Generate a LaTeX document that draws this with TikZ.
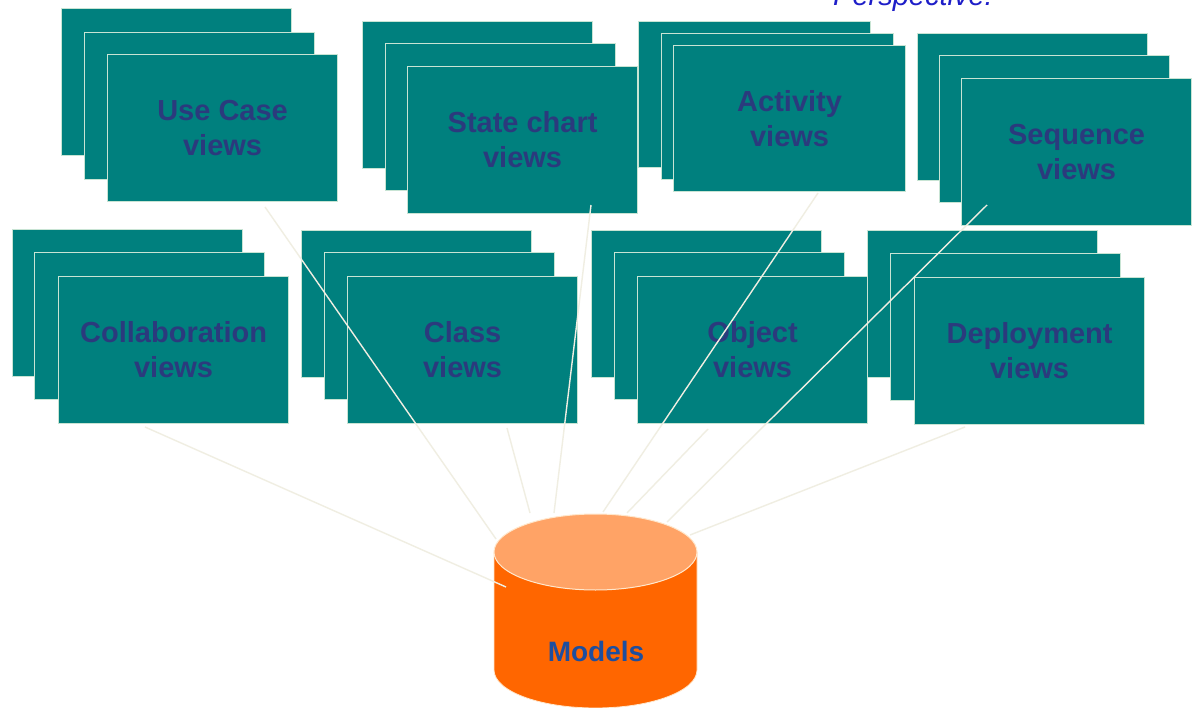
\documentclass[tikz,border=0pt]{standalone}
\usepackage{fontspec}
\setmainfont{Liberation Sans}
\definecolor{teal0}{RGB}{0,128,126}
\definecolor{cardedge}{RGB}{200,228,212}
\definecolor{navy0}{RGB}{43,58,125}
\definecolor{linkcol}{RGB}{240,238,226}
\definecolor{bodyor}{RGB}{255,102,0}
\definecolor{toporange}{RGB}{255,163,102}
\definecolor{rimcol}{RGB}{255,232,205}
\definecolor{modeltext}{RGB}{30,78,158}
\definecolor{perscol}{RGB}{30,30,200}
\begin{document}
\begin{tikzpicture}[x=1pt,y=-1pt,
  card/.style={draw=cardedge, line width=1.2pt, fill=teal0,
    minimum width=230pt, minimum height=147pt, anchor=north west, inner sep=0pt},
  cardtext/.style={card, font=\fontsize{29}{35}\selectfont\bfseries,
    text=navy0, align=center},
  link/.style={draw=linkcol, line width=1.4pt}]
\useasboundingbox (0,0) rectangle (1193,708);
\clip (0,0) rectangle (1193,708);
\fill[white] (0,0) rectangle (1193,708);

% heading, cut at the top edge
\node[anchor=base west, inner sep=0pt, text=perscol,
  font=\fontsize{29}{35}\selectfont\itshape] (persp) at (833,6) {Perspective:};

% top row of view stacks
\node[card] (uc1) at (61,8) {};
\node[card] (uc2) at (84,32) {};
\node[cardtext] (usecase) at (107,54) {Use Case\\views};

\node[card] (sc1) at (362,21) {};
\node[card] (sc2) at (385,43) {};
\node[cardtext] (statechart) at (407,66) {State chart\\views};

\node[card, minimum width=232pt, minimum height=146pt] (ac1) at (638,21) {};
\node[card, minimum width=232pt, minimum height=146pt] (ac2) at (661,33) {};
\node[cardtext, minimum width=232pt, minimum height=146pt] (activity) at (673,45) {Activity\\views};

\node[card] (sq1) at (917,33) {};
\node[card] (sq2) at (939,55) {};
\node[cardtext] (sequence) at (961,78) {Sequence\\views};

% bottom row of view stacks
\node[card] (co1) at (12,229) {};
\node[card] (co2) at (34,252) {};
\node[cardtext] (collab) at (58,276) {Collaboration\\views};

\node[card] (cl1) at (301,230) {};
\node[card] (cl2) at (324,252) {};
\node[cardtext] (class) at (347,276) {Class\\views};

\node[card] (ob1) at (591,230) {};
\node[card] (ob2) at (614,252) {};
\node[cardtext] (object) at (637,276) {Object\\views};

\node[card] (de1) at (867,230) {};
\node[card] (de2) at (890,253) {};
\node[cardtext] (deploy) at (914,277) {Deployment\\views};

% model repository
\filldraw[fill=bodyor, draw=rimcol, line width=0.8pt]
  (494,552) -- (494,670) arc[start angle=180, end angle=0, x radius=101.5, y radius=38]
  -- (697,552) -- cycle;
\filldraw[fill=toporange, draw=rimcol, line width=1pt]
  (595.5,552) ellipse[x radius=101.5, y radius=38];
\node[font=\fontsize{28}{34}\selectfont\bfseries, text=modeltext] (models) at (596,651) {Models};

% connector end points
\coordinate (ucA) at (265,207);   \coordinate (ucB) at (496,539);
\coordinate (coA) at (145,427);   \coordinate (coB) at (506,587);
\coordinate (clA) at (507,428);   \coordinate (clB) at (530,513);
\coordinate (scA) at (591,205);   \coordinate (scB) at (554,513);
\coordinate (acA) at (818,193);   \coordinate (acB) at (603,512);
\coordinate (obA) at (708,429);   \coordinate (obB) at (627,513);
\coordinate (sqA) at (987,205);   \coordinate (sqB) at (667,522);
\coordinate (deA) at (965,427);   \coordinate (deB) at (690,535);

% connectors from each view to the models
\draw[link] (ucA) -- (ucB);
\draw[link] (coA) -- (coB);
\draw[link] (clA) -- (clB);
\draw[link] (scA) -- (scB);
\draw[link] (acA) -- (acB);
\draw[link] (obA) -- (obB);
\draw[link] (sqA) -- (sqB);
\draw[link] (deA) -- (deB);
\end{tikzpicture}
\end{document}
